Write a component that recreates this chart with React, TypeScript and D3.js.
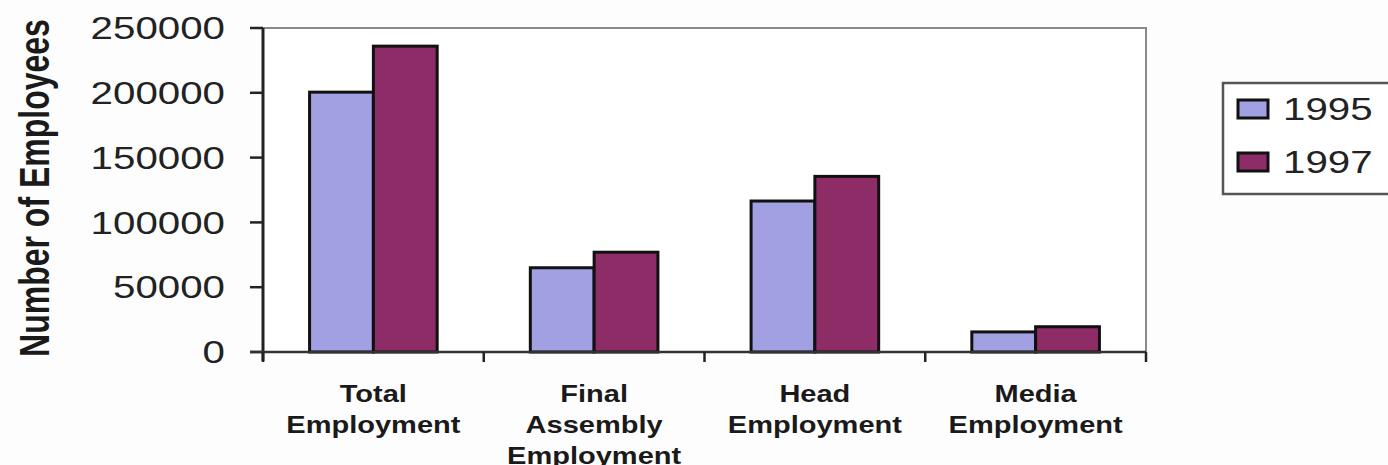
import * as d3 from 'd3';
import React from 'react';

const categories = [
  ['Total', 'Employment'],
  ['Final', 'Assembly', 'Employment'],
  ['Head', 'Employment'],
  ['Media', 'Employment'],
];
const years = ['1995', '1997'];
const values1995 = [200500, 65000, 116500, 15500];
const values1997 = [236000, 77000, 135500, 19500];
const yTicks = [0, 50000, 100000, 150000, 200000, 250000];

const colors = ['#a0a0e2', '#8e2c68'];
const SX = 1.3; // the scan is stretched sideways

export default function App() {
  const margin = { top: 28, left: 263, right: 1146, bottom: 352 };
  const x0 = d3
    .scaleBand()
    .domain(categories.map((_, i) => String(i)))
    .range([margin.left, margin.right])
    .paddingInner(0)
    .paddingOuter(0);
  const x1 = d3.scaleBand().domain(years).range([0, x0.bandwidth()]).paddingInner(0).paddingOuter(0.73);
  const y = d3.scaleLinear().domain([0, 250000]).range([margin.bottom, margin.top]);
  const series = [values1995, values1997];
  const font = "'Liberation Sans', Arial, sans-serif";

  return (
    <div style={{ position: 'fixed', left: 0, top: 0 }}>
      <svg width={1388} height={465} style={{ display: 'block', background: '#fdfdfd' }} fontFamily={font}>
        {/* plot area */}
        <rect
          x={margin.left}
          y={margin.top}
          width={margin.right - margin.left}
          height={margin.bottom - margin.top}
          fill="#ffffff"
          stroke="#8a8a8a"
          strokeWidth={2}
        />

        {/* bars */}
        {categories.map((_, ci) =>
          years.map((yr, si) => {
            const v = series[si][ci];
            return (
              <rect
                key={ci + yr}
                x={(x0(String(ci)) ?? 0) + (x1(yr) ?? 0)}
                y={y(v)}
                width={x1.bandwidth()}
                height={margin.bottom - y(v)}
                fill={colors[si]}
                stroke="#111"
                strokeWidth={3}
              />
            );
          })
        )}

        {/* y axis */}
        <line x1={margin.left} x2={margin.left} y1={margin.top} y2={margin.bottom + 9} stroke="#222" strokeWidth={3} />
        {yTicks.map(t => (
          <g key={t}>
            <line x1={margin.left - 13} x2={margin.left} y1={y(t)} y2={y(t)} stroke="#222" strokeWidth={2.5} />
            <text
              transform={`translate(${margin.left - 38},${y(t)}) scale(${SX},1)`}
              dy="0.36em"
              textAnchor="end"
              fontSize={31}
              fill="#222"
            >
              {t}
            </text>
          </g>
        ))}

        {/* x axis */}
        <line x1={margin.left - 13} x2={margin.right} y1={margin.bottom} y2={margin.bottom} stroke="#333" strokeWidth={2.5} />
        {categories.map((_, ci) => (
          <line
            key={ci}
            x1={x0(String(ci)) ?? 0}
            x2={x0(String(ci)) ?? 0}
            y1={margin.bottom}
            y2={margin.bottom + 10}
            stroke="#222"
            strokeWidth={2.5}
          />
        ))}
        <line x1={margin.right} x2={margin.right} y1={margin.bottom} y2={margin.bottom + 10} stroke="#222" strokeWidth={2.5} />
        {categories.map((lines, ci) => (
          <g key={ci} transform={`translate(${(x0(String(ci)) ?? 0) + x0.bandwidth() / 2},0)`}>
            {lines.map((ln, li) => (
              <text
                key={li}
                transform={`translate(0,${402 + li * 31}) scale(${SX * 0.95},1)`}
                textAnchor="middle"
                fontSize={23.5}
                fontWeight="bold"
                fill="#1a1a1a"
              >
                {ln}
              </text>
            ))}
          </g>
        ))}

        {/* y title */}
        <text
          transform={`translate(49,188) scale(${SX},1) rotate(-90)`}
          textAnchor="middle"
          fontSize={32}
          fontWeight="bold"
          fill="#1a1a1a"
        >
          Number of Employees
        </text>

        {/* legend */}
        <rect x={1223} y={83} width={180} height={111} fill="#ffffff" stroke="#555" strokeWidth={2.5} />
        {years.map((yr, si) => (
          <g key={yr} transform={`translate(1238,${109 + si * 53})`}>
            <rect x={0} y={-9} width={30} height={18} fill={colors[si]} stroke="#111" strokeWidth={3} />
            <text transform={`translate(45,0) scale(${SX},1)`} dy="0.36em" fontSize={31} fill="#222">
              {yr}
            </text>
          </g>
        ))}
      </svg>
    </div>
  );
}
